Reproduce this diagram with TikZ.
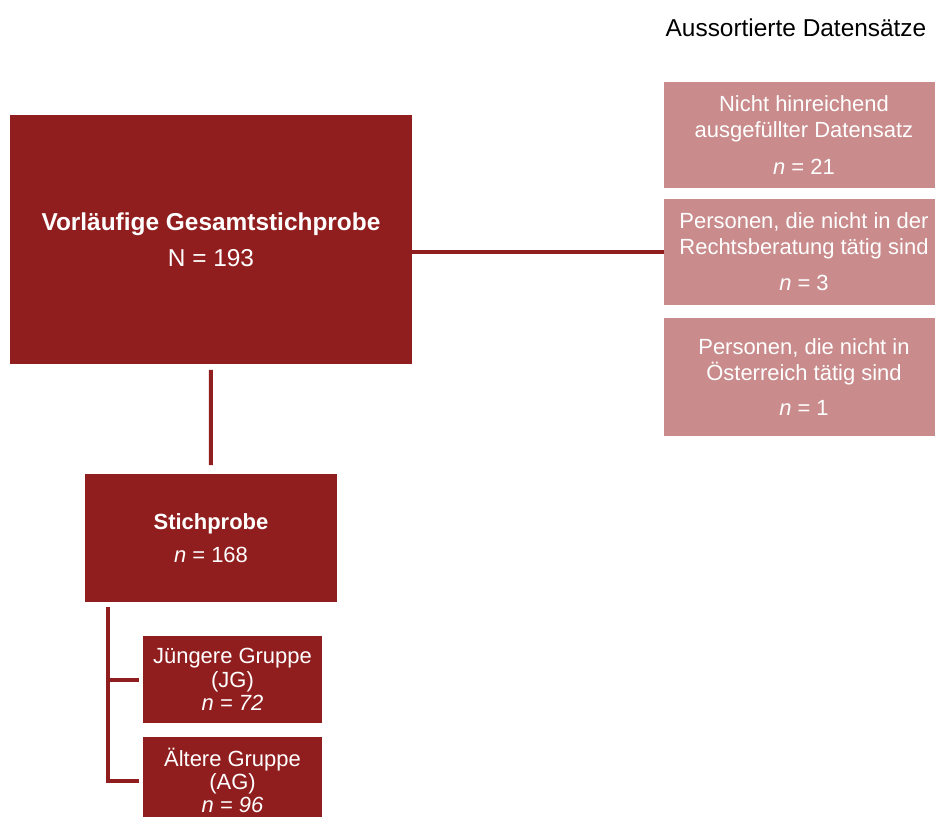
\documentclass[tikz,border=0pt]{standalone}
\usepackage{fontspec}
\setmainfont{Liberation Sans}
\usetikzlibrary{positioning, calc}

\definecolor{darkred}{RGB}{145,30,30}
\definecolor{palered}{RGB}{201,139,139}

\begin{document}
\begin{tikzpicture}[
    x=0.02cm, y=-0.02cm,
    every node/.style={inner sep=0pt, outer sep=0pt, font=\fontsize{12.5}{14.6}\selectfont},
    big/.style={font=\fontsize{13.9}{16}\selectfont},
    box/.style={fill=darkred, text=white, align=center, anchor=north west},
    sortbox/.style={fill=palered, text=white, align=center, anchor=north west,
                    minimum width=5.6cm},
    grpbox/.style={box, minimum width=3.58cm, minimum height=1.74cm,
                   font=\fontsize{12.5}{13.3}\selectfont},
    link/.style={draw=darkred, line width=0.08cm}
  ]
  \clip (0,0) rectangle (935,816);

  % main sample and the sample kept
  \node[box, big, minimum width=8.04cm, minimum height=4.98cm] (gesamt) at (10,115)
    {\textbf{Vorläufige Gesamtstichprobe}\\[4.4pt] N = 193};
  \node[box, minimum width=5.04cm, minimum height=2.56cm] (stich) at (85,474)
    {\textbf{Stichprobe}\\[4pt] \textit{n} = 168};
  \node[grpbox] (jg) at (143,636) {Jüngere Gruppe\\(JG)\\\textit{n = 72}};
  \node[grpbox] (ag) at (143,737) {Ältere Gruppe\\(AG)\\\textit{n = 96}};

  % sorted out records
  \node[big] (titel) at (796,28) {Aussortierte Datensätze};
  \node[sortbox, minimum height=2.12cm] (sort1) at (664,82)
    {Nicht hinreichend\\ausgefüllter Datensatz\\[6.2pt] \textit{n} = 21};
  \node[sortbox, minimum height=2.12cm] (sort2) at (664,199)
    {Personen, die nicht in der\\Rechtsberatung tätig sind\\[6.2pt] \textit{n} = 3};
  \node[sortbox, minimum height=2.36cm] (sort3) at (664,318)
    {Personen, die nicht in\\Österreich tätig sind\\[5pt] \textit{n} = 1};

  % connectors
  \draw[link] (gesamt.east |- sort2.west) -- (sort2.west);
  \draw[link] ([yshift=-0.12cm]gesamt.south) -- ([yshift=0.18cm]stich.north);
  \coordinate (klammer) at ($(stich.south west)+(23,5)$);
  \draw[link] (klammer) |- ([xshift=-0.08cm]ag.west);
  \draw[link] (klammer |- jg.west) -- ([xshift=-0.08cm]jg.west);
\end{tikzpicture}
\end{document}
